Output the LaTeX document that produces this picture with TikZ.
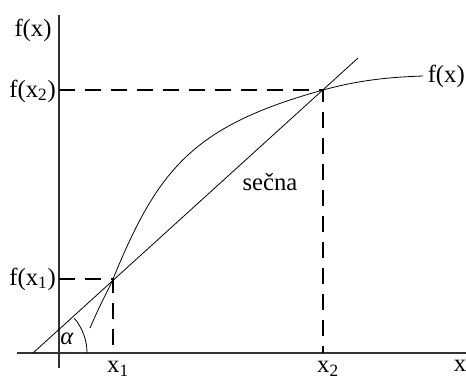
\documentclass[tikz,border=0pt]{standalone}
\usepackage{fontspec}
\setmainfont{Liberation Serif}
\begin{document}
\begin{tikzpicture}[x=0.75pt,y=-0.75pt,
  axis/.style={line width=1.1pt,draw=black!80},
  thin/.style={line width=0.6pt},
  dashline/.style={line width=0.8pt,dash pattern=on 12pt off 7.5pt},
  lbl/.style={font=\fontsize{18.5}{21}\selectfont,inner sep=0pt}]
\useasboundingbox (0,0) rectangle (466,379);
% axes
\coordinate (xl) at (17,353);
\coordinate (xr) at (466,353);
\coordinate (yt) at (59,15);
\coordinate (yb) at (59,368);
\draw[axis] (xl) -- (xr);
\draw[axis] (yb) -- (yt);
% points
\coordinate (P1) at (113,279);
\coordinate (P2) at (323,90);
\coordinate (A) at (33,353);
\coordinate (S) at (358,58);
\coordinate (Y1) at (59,279);
\coordinate (Y2) at (59,90);
\coordinate (X1) at (113,353);
\coordinate (X2) at (323,353);
\coordinate (C0) at (90,328);
\coordinate (C3) at (423,76);
% dashed guides
\draw[dashline] (Y1) -- (P1) -- (X1);
\draw[dashline] (Y2) -- (P2) -- (X2);
% secant
\draw[thin] (A) -- (S);
% curve
\draw[thin] (C0) .. controls (102,300) and (108,291) .. (P1)
  .. controls (158,169) and (193,126) .. (P2)
  .. controls (363,79) and (395,77) .. (C3);
% angle arc
\draw[thin] (87,353) arc[start angle=0,end angle=-40,radius=54];
% labels
\node[lbl] (ly) at (33,30) {f(x)};
\node[lbl,anchor=east] (lf2) at (56,91) {f(x\textsubscript{2})};
\node[lbl,anchor=east] (lf1) at (56,279) {f(x\textsubscript{1})};
\node[lbl] (lx1) at (118,369) {x\textsubscript{1}};
\node[lbl] (lx2) at (328,369) {x\textsubscript{2}};
\node[lbl] (lx) at (460,366) {x};
\node[lbl,anchor=east] (lfx) at (465,76) {f(x)};
\node[lbl] (ls) at (270,182) {sečna};
\node[lbl] (la) at (67,339) {\textit{α}};
\end{tikzpicture}
\end{document}
